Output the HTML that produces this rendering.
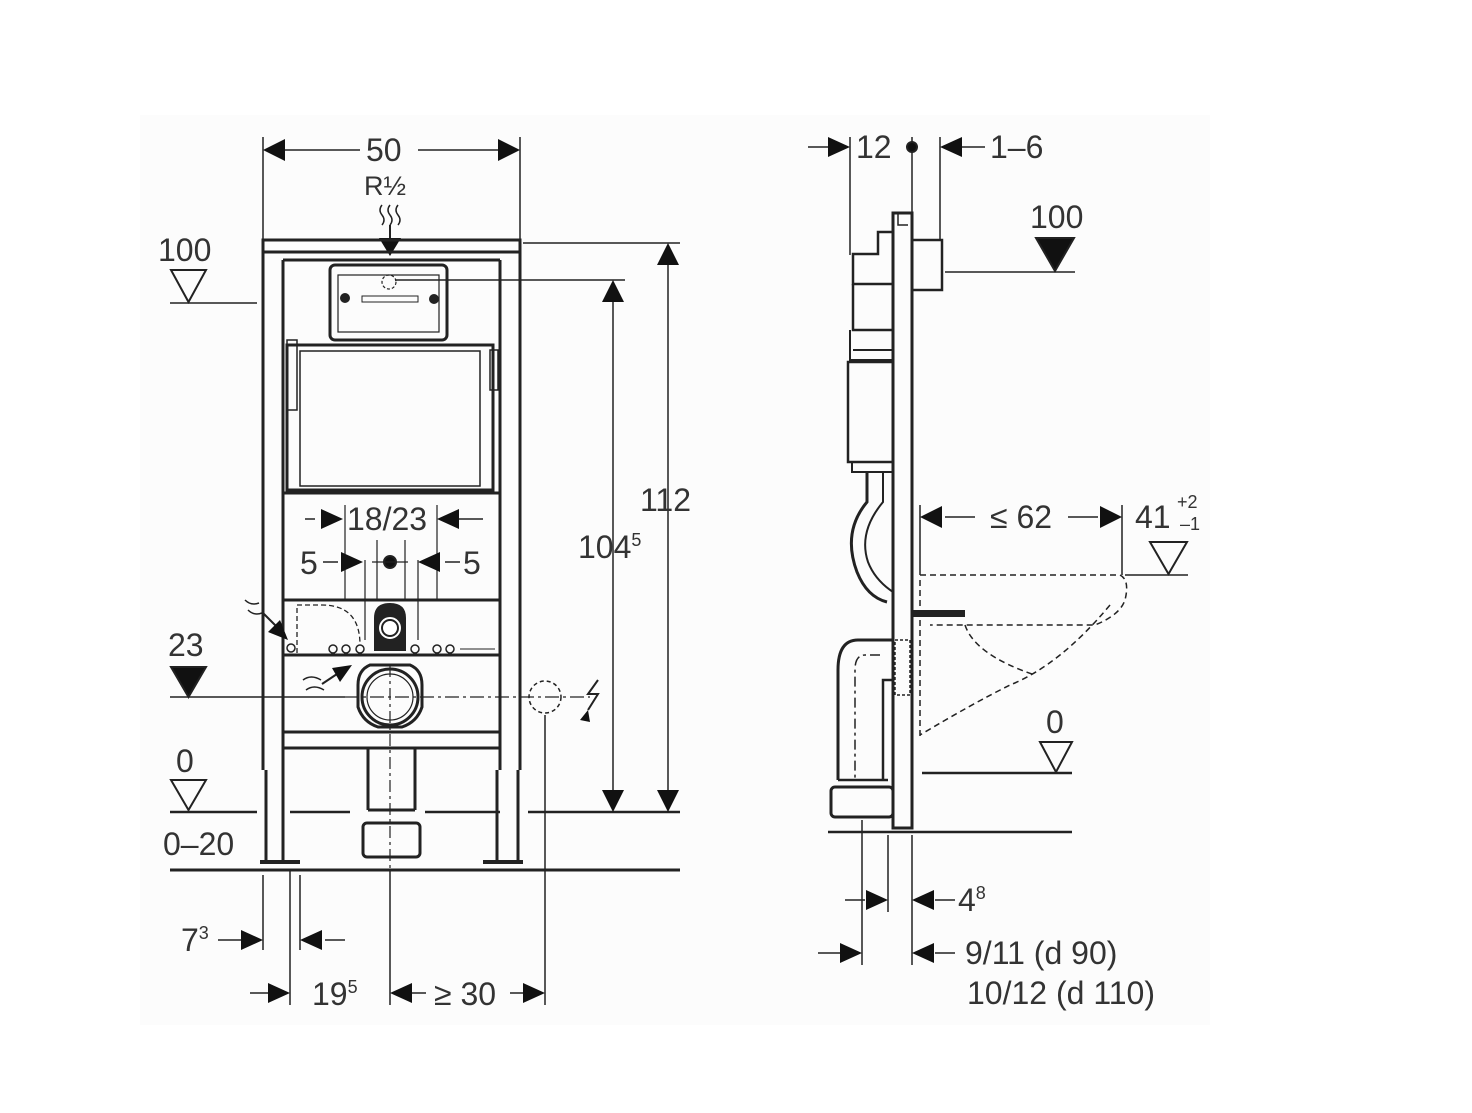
<!DOCTYPE html>
<html><head><meta charset="utf-8"><style>
html,body{margin:0;padding:0;background:#fff}
svg{display:block}
text{font-family:"Liberation Sans",sans-serif;fill:#333;font-size:32px;stroke:none}
</style></head><body>
<svg width="1472" height="1113" viewBox="0 0 1472 1113" xmlns="http://www.w3.org/2000/svg">
<rect x="140" y="115" width="1070" height="910" fill="#fcfcfc"/>
<g stroke="#222" fill="none" stroke-width="2">
<!-- LEFT VIEW -->
<line x1="263" y1="137" x2="263" y2="240" stroke-width="1.5"/>
<line x1="520" y1="137" x2="520" y2="240" stroke-width="1.5"/>
<path d="M263,150l22,-11v22z" fill="#111" stroke="none"/>
<path d="M520,150l-22,-11v22z" fill="#111" stroke="none"/>
<line x1="285" y1="150" x2="360" y2="150" stroke-width="1.5"/>
<line x1="418" y1="150" x2="498" y2="150" stroke-width="1.5"/>
<path d="M382,205q-4,5 0,10q4,5 0,10M390,205q-4,5 0,10q4,5 0,10M398,205q-4,5 0,10q4,5 0,10" stroke-width="1.5"/>
<line x1="390" y1="225" x2="390" y2="240"/>
<path d="M379,238h22l-11,18z" fill="#111" stroke="none"/>
<rect x="263" y="240" width="257" height="12" stroke-width="3"/>
<path d="M263,252V770M283,260V770M500,260V770M520,252V770" stroke-width="3"/>
<path d="M266,770V862M283,770V862M497,770V862M518,770V862" stroke-width="3"/>
<path d="M260,862h40M483,862h40" stroke-width="4"/>
<line x1="283" y1="260" x2="500" y2="260" stroke-width="3"/>
<rect x="330" y="265" width="117" height="75" rx="5" stroke-width="3"/>
<rect x="338" y="275" width="101" height="57" stroke-width="1.2"/>
<circle cx="389" cy="282" r="7" stroke-dasharray="3 2" stroke-width="1.2"/>
<circle cx="345" cy="298" r="4" fill="#222"/><circle cx="434" cy="299" r="4" fill="#222"/>
<rect x="362" y="296" width="56" height="6" stroke-width="1"/>
<line x1="395" y1="280" x2="625" y2="280" stroke-width="1.5"/>
<line x1="523" y1="243" x2="680" y2="243" stroke-width="1.5"/>
<path d="M287,345h206V490H287z" stroke-width="3"/>
<rect x="300" y="351" width="180" height="135" stroke-width="1.5"/>
<rect x="287" y="340" width="10" height="70" stroke-width="1.5"/>
<rect x="490" y="350" width="8" height="40" stroke-width="1.5"/>
<line x1="283" y1="493" x2="500" y2="493" stroke-width="3"/>
<line x1="283" y1="600" x2="500" y2="600" stroke-width="3"/>
<line x1="283" y1="655" x2="500" y2="655" stroke-width="3"/>
<line x1="283" y1="732" x2="500" y2="732" stroke-width="3"/>
<line x1="283" y1="748" x2="500" y2="748" stroke-width="3"/>
<path d="M305,519h10M443,519h40" stroke-width="1.5"/>
<path d="M343,519l-22,-10v20z" fill="#111" stroke="none"/>
<path d="M437,519l22,-10v20z" fill="#111" stroke="none"/>
<path d="M345,505V600M437,505V600M377,540V600M405,540V600M365,560V640M418,560V640" stroke-width="1.2"/>
<path d="M323,562h15M460,562h-15" stroke-width="1.5"/>
<path d="M363,562l-22,-10v20z" fill="#111" stroke="none"/>
<path d="M418,562l22,-10v20z" fill="#111" stroke="none"/>
<circle cx="390" cy="562" r="6" fill="#111"/>
<line x1="372" y1="562" x2="408" y2="562" stroke-width="1.2"/>
<path d="M375,650V618q0,-14 15,-14q15,0 15,14V650z" fill="#222"/>
<circle cx="390" cy="628" r="10" fill="#fff" stroke="#fff"/>
<circle cx="390" cy="628" r="8" stroke-width="2"/>
<g stroke-width="1.5"><circle cx="291" cy="648" r="4"/><circle cx="333" cy="649" r="4"/><circle cx="346" cy="649" r="4"/><circle cx="360" cy="649" r="4"/><circle cx="415" cy="649" r="4"/><circle cx="437" cy="649" r="4"/><circle cx="450" cy="649" r="4"/></g>
<line x1="460" y1="649" x2="495" y2="649" stroke-width="1"/>
<path d="M297,653V605h25q38,0 38,40" stroke-dasharray="5 3" stroke-width="1.3"/>
<path d="M245,600q6,6 14,3M248,610q6,6 14,3" stroke-width="1.5"/>
<line x1="262" y1="612" x2="280" y2="630"/>
<path d="M288,640l-20,-8l12,-12z" fill="#111" stroke="none"/>
<path d="M303,680q8,-6 18,0M306,690q8,-6 18,0" stroke-width="1.5"/>
<line x1="322" y1="684" x2="340" y2="672"/>
<path d="M352,665l-20,3l8,14z" fill="#111" stroke="none"/>
<path d="M358,685q0,-15 12,-20h40q12,5 12,20v22q-5,15 -20,20h-24q-15,-5 -20,-20z" stroke-width="3"/>
<circle cx="390" cy="697" r="28" stroke-width="3"/>
<circle cx="390" cy="697" r="23" stroke-width="1.2"/>
<line x1="390" y1="665" x2="390" y2="870" stroke-dasharray="12 4 3 4" stroke-width="1.2"/>
<path d="M368,748V810M415,748V810M368,810h47" stroke-width="3"/>
<rect x="363" y="823" width="57" height="34" rx="4" stroke-width="3"/>
<circle cx="545" cy="697" r="16" stroke-dasharray="4 3" stroke-width="1.5"/>
<path d="M598,680l-10,14h10l-10,16" stroke-width="2"/>
<path d="M580,720l8,-10l2,12z" fill="#111" stroke="none"/>
<path d="M171,270h35l-17.5,32z"/>
<line x1="170" y1="303" x2="257" y2="303" stroke-width="1.5"/>
<path d="M171,667h35l-17.5,30z" fill="#111"/>
<line x1="170" y1="697" x2="345" y2="697" stroke-width="1.5"/>
<line x1="345" y1="697" x2="590" y2="697" stroke-dasharray="14 4 3 4" stroke-width="1.3"/>
<path d="M171,780h35l-17.5,30z"/>
<path d="M170,812H257M290,812H350M425,812H500M528,812H680" stroke-width="2.5"/>
<line x1="170" y1="870" x2="680" y2="870" stroke-width="3"/>
<line x1="613" y1="300" x2="613" y2="792" stroke-width="1.5"/>
<path d="M613,280l-11,22h22z M613,812l-11,-22h22z" fill="#111" stroke="none"/>
<line x1="668" y1="263" x2="668" y2="792" stroke-width="1.5"/>
<path d="M668,243l-11,22h22z M668,812l-11,-22h22z" fill="#111" stroke="none"/>
<path d="M263,875V950M290,870V1005M300,875V950M390,870V1005M545,715V1005" stroke-width="1.5"/>
<path d="M218,940h25M325,940h20M250,993h20M412,993h14M510,993h15" stroke-width="1.5"/>
<path d="M263,940l-22,-10v20z M300,940l22,-10v20z M290,993l-22,-10v20z M390,993l22,-10v20z M545,993l-22,-10v20z" fill="#111" stroke="none"/>

<!-- RIGHT VIEW -->
<path d="M850,137V255M912,137V213M940,137V240" stroke-width="1.5"/>
<path d="M808,147h20M945,147h40" stroke-width="1.5"/>
<path d="M850,147l-22,-10v20z M940,147l22,-10v20z" fill="#111" stroke="none"/>
<circle cx="912" cy="147" r="5" fill="#111"/>
<path d="M893,213h19V828h-19z" stroke-width="3"/>
<path d="M898,213v12h10" stroke-width="1.5"/>
<path d="M893,232h-15v22h-25v30h40" stroke-width="2.5"/>
<path d="M853,284V330h40V284" stroke-width="2.5"/>
<path d="M853,330h40M853,350h40M850,330v30h43" stroke-width="2"/>
<rect x="848" y="362" width="45" height="100" stroke-width="2.5"/>
<path d="M852,462h41v10h-41z" stroke-width="2"/>
<path d="M867,472v30q-25,30 -10,70q10,25 30,30" stroke-width="3"/>
<path d="M883,472v30q-25,30 -15,60q7,18 25,30" stroke-width="2"/>
<rect x="912" y="240" width="30" height="50" stroke-width="2.5"/>
<path d="M945,272H1075" stroke-width="1.5"/>
<path d="M1036,238h38l-19,33z" fill="#111"/>
<path d="M920,575H1120q10,5 5,25q-5,15 -30,25H930" stroke-dasharray="6 4" stroke-width="1.5"/>
<path d="M1110,605q-50,60 -100,80q-40,20 -90,50M920,580V738" stroke-dasharray="6 4" stroke-width="1.5"/>
<path d="M965,625q10,30 70,50" stroke-dasharray="6 4" stroke-width="1.5"/>
<rect x="912" y="611" width="52" height="5" fill="#222"/>
<path d="M893,640h-35q-20,0 -20,30V780" stroke-width="3"/>
<path d="M880,655h-15q-10,0 -10,15V780" stroke-width="1.5" stroke-dasharray="10 4 3 4"/>
<path d="M893,670v10h-10v100" stroke-width="2.5"/>
<path d="M838,780h50" stroke-width="2.5"/>
<rect x="831" y="787" width="62" height="30" rx="4" stroke-width="3"/>
<rect x="895" y="640" width="15" height="55" stroke-dasharray="3 2" stroke-width="1.5"/>
<line x1="920" y1="505" x2="920" y2="575" stroke-width="1.5"/>
<line x1="1122" y1="505" x2="1122" y2="575" stroke-width="1.5"/>
<path d="M945,517h30M1068,517h30" stroke-width="1.5"/>
<path d="M920,517l22,-11v22z M1122,517l-22,-11v22z" fill="#111" stroke="none"/>
<path d="M1150,542h37l-18.5,32z"/>
<line x1="1125" y1="575" x2="1188" y2="575" stroke-width="1.5"/>
<path d="M1040,742h32l-16,30z"/>
<line x1="922" y1="773" x2="1072" y2="773" stroke-width="2.5"/>
<line x1="828" y1="832" x2="1072" y2="832" stroke-width="2.5"/>
<path d="M862,820V965M888,835V912M912,835V965" stroke-width="1.5"/>
<path d="M845,900h20M935,900h20M818,953h22M935,953h20" stroke-width="1.5"/>
<path d="M888,900l-22,-10v20z M912,900l22,-10v20z M862,953l-22,-10v20z M912,953l22,-10v20z" fill="#111" stroke="none"/>
</g>
<text x="366" y="161">50</text>
<text x="364" y="195" style="font-size:27px">R½</text>
<text x="158" y="261">100</text>
<text x="168" y="656">23</text>
<text x="176" y="772">0</text>
<text x="163" y="855">0–20</text>
<text x="347" y="530">18/23</text>
<text x="300" y="574">5</text>
<text x="463" y="574">5</text>
<text x="578" y="558">104<tspan font-size="18" dy="-12">5</tspan></text>
<text x="640" y="511">112</text>
<text x="181" y="951">7<tspan font-size="18" dy="-12">3</tspan></text>
<text x="312" y="1005">19<tspan font-size="18" dy="-12">5</tspan></text>
<text x="434" y="1005">≥ 30</text>
<text x="856" y="158">12</text>
<text x="990" y="158">1–6</text>
<text x="1030" y="228">100</text>
<text x="990" y="528">≤ 62</text>
<text x="1135" y="528">41</text>
<text x="1177" y="508" style="font-size:18px">+2</text>
<text x="1180" y="530" style="font-size:18px">–1</text>
<text x="1046" y="733">0</text>
<text x="958" y="911">4<tspan font-size="18" dy="-12">8</tspan></text>
<text x="965" y="964">9/11   (d 90)</text>
<text x="967" y="1004">10/12 (d 110)</text>
</svg>
</body></html>
